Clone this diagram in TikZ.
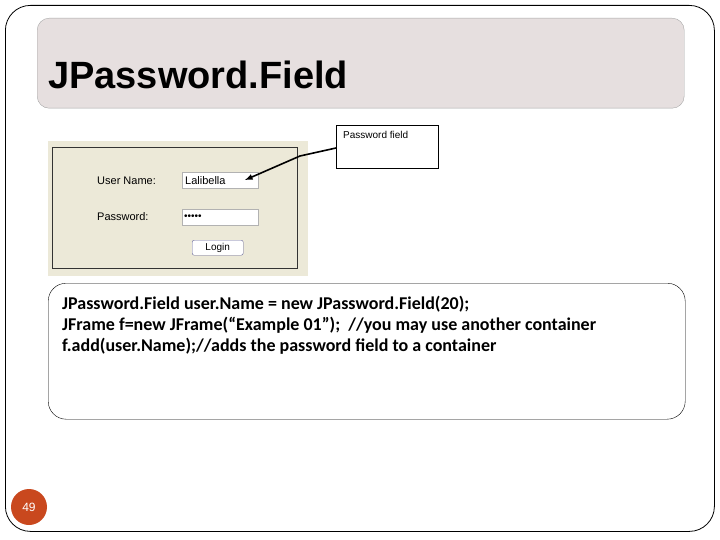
\documentclass[tikz,border=0pt]{standalone}
\usepackage{fontspec}
\setmainfont{Carlito}
\newfontfamily\ariala{Liberation Sans}
\definecolor{titlefill}{HTML}{E6DFDF}
\definecolor{beige}{HTML}{ECE9D8}
\definecolor{numred}{HTML}{C9481E}
\begin{document}
\begin{tikzpicture}[x=1pt,y=-1pt,
  lbl/.style={anchor=west,inner sep=0pt,font=\ariala\fontsize{11}{12}\selectfont},
  field/.style={draw=gray!60,fill=white,minimum width=76pt,minimum height=16pt,inner sep=0pt,anchor=north west},
  code/.style={anchor=west,inner sep=0pt,font=\bfseries\fontsize{18}{20}\selectfont}]
\useasboundingbox (0,0) rectangle (720,540);
\node[draw,rounded corners=25pt,minimum width=709pt,minimum height=526pt,anchor=north west,line width=0.8pt] (frame) at (5,5) {};
\node[draw=gray!70,fill=titlefill,rounded corners=12pt,minimum width=647pt,minimum height=90pt,anchor=north west] (title) at (37,18) {};
\node[anchor=west,inner sep=0pt,font=\ariala\bfseries\fontsize{38}{42}\selectfont] (titletext) at (48,75) {JPassword.Field};
% screenshot
\node[fill=beige,minimum width=260pt,minimum height=135pt,anchor=north west,inner sep=0pt] (shot) at (48,141) {};
\node[draw=black!80,minimum width=245pt,minimum height=121pt,anchor=north west,inner sep=0pt] (inner) at (52,147) {};
\node[lbl] (un) at (97,181) {User Name:};
\node[field] (unf) at (182,172) {};
\node[lbl] (unv) at (185,181) {Lalibella};
\node[lbl] (pw) at (97,217) {Password:};
\node[field] (pwf) at (182,209) {};
\node[lbl,font=\ariala\fontsize{10}{11}\selectfont] (pwv) at (184,217) {\textbullet\textbullet\textbullet\textbullet\textbullet};
\node[draw=gray!80!blue,fill=white,rounded corners=2pt,minimum width=51pt,minimum height=15pt,anchor=north west,inner sep=0pt] (btn) at (192,240) {};
\node[font=\ariala\fontsize{10}{11}\selectfont,inner sep=0pt] (btnt) at (btn.center) {Login};
% callout
\node[draw,fill=white,minimum width=102pt,minimum height=43pt,anchor=north west,inner sep=0pt] (call) at (336,125) {};
\node[anchor=north west,inner sep=0pt,font=\ariala\fontsize{10}{11}\selectfont] (callt) at (343,131) {Password field};
\coordinate (tip) at (245,180);
\draw[line width=1.6pt,-latex] (call.west |- 0,148) -- (300,156) -- (tip);
% code box
\node[draw,rounded corners=18pt,minimum width=637pt,minimum height=136pt,anchor=north west,inner sep=0pt] (codebox) at (48,283) {};
\node[code] (c1) at (62,304) {JPassword.Field user.Name = new JPassword.Field(20);};
\node[code] (c2) at (62,325) {JFrame f=new JFrame(“Example 01”);\ \ //you may use another container};
\node[code] (c3) at (62,346) {f.add(user.Name);//adds the password field to a container};
% page number
\node[circle,fill=numred,minimum size=36pt,inner sep=0pt,text=white,font=\ariala\fontsize{12}{14}\selectfont] (num) at (29,507) {49};
\end{tikzpicture}
\end{document}
